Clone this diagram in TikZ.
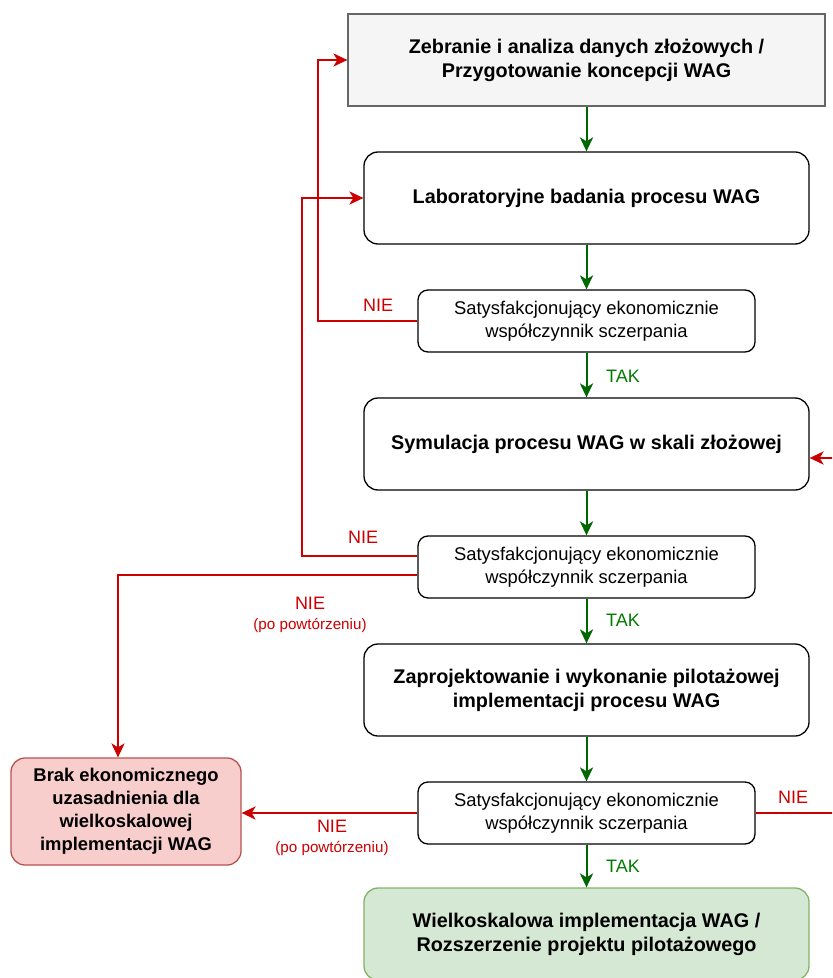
\documentclass[tikz,border=0pt]{standalone}
\usepackage{fontspec}
\setmainfont{Liberation Sans}
\usetikzlibrary{arrows.meta}
\usetikzlibrary{calc}
\tikzset{>={Stealth[length=7pt,width=6.6pt,inset=2pt]}}
\definecolor{nocol}{HTML}{CC0000}
\definecolor{yescol}{HTML}{006600}
\definecolor{takcol}{HTML}{007A00}
\definecolor{greyfill}{HTML}{F5F5F5}
\definecolor{greyline}{HTML}{666666}
\definecolor{redfill}{HTML}{F8CECC}
\definecolor{redline}{HTML}{B85450}
\definecolor{greenfill}{HTML}{D5E8D4}
\definecolor{greenline}{HTML}{82B366}
\tikzstyle{stage}=[draw=black,line width=0.65pt,rounded corners=7pt,inner sep=0pt,align=center,minimum width=222.5pt,minimum height=46pt,font=\fontsize{9.9}{12}\selectfont\bfseries]
\tikzstyle{check}=[draw=black,line width=0.65pt,rounded corners=5pt,inner sep=0pt,align=center,minimum width=168.5pt,minimum height=31pt,font=\fontsize{9.2}{11.5}\selectfont]
\tikzstyle{yes}=[->,yescol,line width=1pt]
\tikzstyle{no}=[->,nocol,line width=0.8pt]
\tikzstyle{nolabel}=[nocol,inner sep=0pt,font=\fontsize{9}{11}\selectfont]
\tikzstyle{yeslabel}=[takcol,inner sep=0pt,font=\fontsize{9}{11}\selectfont]
\tikzstyle{smalllabel}=[nocol,inner sep=0pt,font=\fontsize{7.6}{9}\selectfont]

\begin{document}
\begin{tikzpicture}[x=0.5pt,y=-0.5pt]
  \def\cx{586.5} % axis of the main column
  % picture frame, the right and bottom edges cut the drawing
  \useasboundingbox (0,0) rectangle (832,978);
  \clip (0,0) rectangle (832,978);

  % main column
  \node[stage,rounded corners=0pt,fill=greyfill,draw=greyline,minimum width=238.5pt] (zbior) at (\cx,60)
    {Zebranie i analiza danych złożowych /\\Przygotowanie koncepcji WAG};
  \node[stage] (lab) at (\cx,198) {Laboratoryjne badania procesu WAG};
  \node[check] (spr1) at (\cx,321) {Satysfakcjonujący ekonomicznie\\współczynnik sczerpania};
  \node[stage] (sym) at (\cx,444) {Symulacja procesu WAG w skali złożowej};
  \node[check] (spr2) at (\cx,567) {Satysfakcjonujący ekonomicznie\\współczynnik sczerpania};
  \node[stage] (pilot) at (\cx,690) {Zaprojektowanie i wykonanie pilotażowej\\implementacji procesu WAG};
  \node[check] (spr3) at (\cx,813) {Satysfakcjonujący ekonomicznie\\współczynnik sczerpania};
  \node[stage,fill=greenfill,draw=greenline] (wielko) at (\cx,934)
    {Wielkoskalowa implementacja WAG /\\Rozszerzenie projektu pilotażowego};
  % failure box
  \node[stage,fill=redfill,draw=redline,minimum width=115pt,minimum height=53.5pt,
        font=\fontsize{9.2}{11.5}\selectfont\bfseries] (brak) at (126,811.5)
    {Brak ekonomicznego\\uzasadnienia dla\\wielkoskalowej\\implementacji WAG};

  % TAK path
  \draw[yes] (zbior) -- (lab);
  \draw[yes] (lab) -- (spr1);
  \draw[yes] (spr1) -- (sym);
  \draw[yes] (sym) -- (spr2);
  \draw[yes] (spr2) -- (pilot);
  \draw[yes] (pilot) -- (spr3);
  \draw[yes] (spr3) -- (wielko);
  \node[yeslabel] (tak1) at (623,376) {TAK};
  \node[yeslabel] (tak2) at (623,620) {TAK};
  \node[yeslabel] (tak3) at (623,866) {TAK};

  % NIE loops
  \coordinate (k1) at (318,60);
  \draw[no] (spr1.west) -| (k1) -- (zbior.west);
  \node[nolabel] (nie1) at (378,305) {NIE};

  \coordinate (k2a) at (302,556);
  \draw[no] (spr2.west |- k2a) -- (k2a) |- (lab.west);
  \node[nolabel] (nie2) at (363,537) {NIE};

  \coordinate (k2b) at (118,575);
  \draw[no] (spr2.west |- k2b) -- (k2b) -- (k2b |- brak.north);
  \node[nolabel] (nie3) at (310,603) {NIE};
  \node[smalllabel] (pow1) at (310,625) {(po powtórzeniu)};

  \draw[no] (spr3.west) -- (spr3.west -| brak.east);
  \node[nolabel] (nie4) at (332,826) {NIE};
  \node[smalllabel] (pow2) at (332,848) {(po powtórzeniu)};

  \coordinate (k3) at (860,458);
  \draw[no] (spr3.east) -| (k3) -- (sym.east |- k3);
  \node[nolabel] (nie5) at (793,797) {NIE};
\end{tikzpicture}
\end{document}
